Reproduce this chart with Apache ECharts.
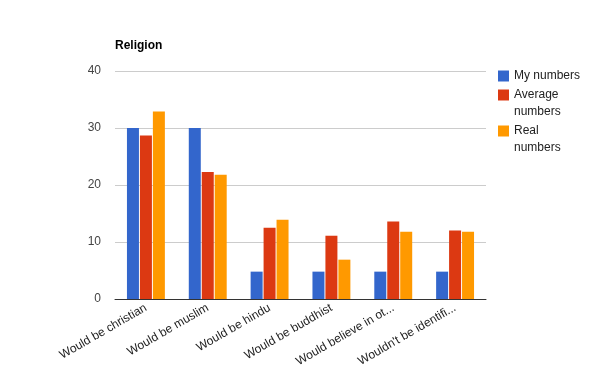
<!DOCTYPE html>
<html><head><meta charset="utf-8">
<script src="https://cdn.jsdelivr.net/npm/echarts@6/dist/echarts.min.js"></script>
<style>html,body{margin:0;padding:0;background:#fff}#c{width:600px;height:371px}</style>
</head><body><div id="c"></div>
<script>
const categories = ["Would be christian","Would be muslim","Would be hindu","Would be buddhist","Would believe in ot...","Wouldn't be identifi..."];
const myNumbers = [30, 30, 4.8, 4.8, 4.8, 4.8];
const averageNumbers = [28.7, 22.3, 12.5, 11.1, 13.6, 12.0];
const realNumbers = [32.9, 21.8, 13.9, 6.9, 11.8, 11.8];
const seriesNames = ["My numbers","Average numbers","Real numbers"];
const legendLabels = {"My numbers":"My numbers","Average numbers":" \nAverage\nnumbers","Real numbers":" \nReal\nnumbers"};
const yTicks = [0,10,20,30,40];

const chart = echarts.init(document.getElementById('c'), null, {renderer:'canvas'});
const font = 'Arial, "Liberation Sans", sans-serif';
const mk = (name, data, color) => ({
  name, type:'bar', data, barWidth:12, barGap:'8%', itemStyle:{color}, animation:false
});
chart.setOption({
  animation:false,
  title:{text:'Religion', left:110, top:35, textStyle:{fontFamily:font, fontSize:12, fontWeight:'bold', color:'#000'}},
  legend:{
    orient:'vertical', left:498, top:67.5, padding:0, itemWidth:11, itemHeight:11, itemGap:-15,
    icon:'rect', formatter:n=>legendLabels[n],
    textStyle:{fontFamily:font, fontSize:12, color:'#222', lineHeight:17},
    data:seriesNames
  },
  grid:{left:115, right:114, top:71, bottom:72},
  xAxis:{
    type:'category', data:categories,
    axisLine:{lineStyle:{color:'#333', width:1}},
    axisTick:{show:false},
    axisLabel:{rotate:30, interval:0, fontFamily:font, fontSize:12, color:'#222', margin:8}
  },
  yAxis:{
    type:'value', min:yTicks[0], max:yTicks[yTicks.length-1], interval:10,
    axisLine:{show:false}, axisTick:{show:false},
    splitLine:{lineStyle:{color:'#ccc'}},
    axisLabel:{fontFamily:font, fontSize:12, color:'#444', margin:14}
  },
  series:[
    mk(seriesNames[0], myNumbers, '#3366cc'),
    mk(seriesNames[1], averageNumbers, '#dc3912'),
    mk(seriesNames[2], realNumbers, '#ff9900')
  ]
});
</script></body></html>
